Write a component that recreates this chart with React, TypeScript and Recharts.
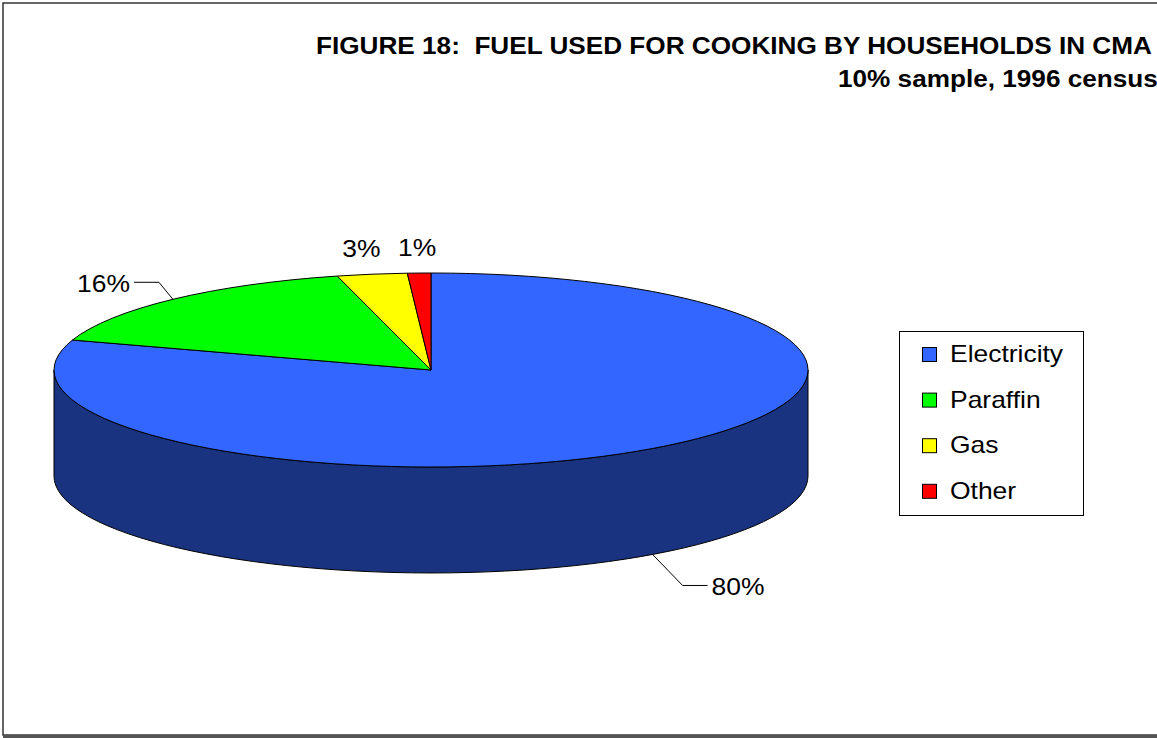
import React from "react";
import { PieChart, Pie, Cell, Legend, Tooltip } from "recharts";

const categories = ["Electricity", "Paraffin", "Gas", "Other"];
const shares = [80, 16, 3, 1];
const colors = ["#3366FF", "#00FF00", "#FFFF00", "#FF0000"];

const title = "FIGURE 18:  FUEL USED FOR COOKING BY HOUSEHOLDS IN CMA";
const subtitle = "10% sample, 1996 census";

const data = categories.map((name, i) => ({ name, value: shares[i] }));

const W = 1157;
const H = 738;
const RAD = Math.PI / 180;
const TILT = 97 / 377; // vertical squash of the pie disc
const DEPTH = 106; // height of the cylinder wall
const STRETCH = 1.15; // the source font is a bit wide
const FONT = "'Liberation Sans', Arial, sans-serif";

// half each channel for the side wall
function darker(hex: string) {
  const n = parseInt(hex.slice(1), 16);
  const c = [(n >> 16) & 255, (n >> 8) & 255, n & 255].map((v) => Math.round(v / 2));
  return `rgb(${c[0]},${c[1]},${c[2]})`;
}

function Slice3D(props: any) {
  const { cx, cy, outerRadius, startAngle, endAngle, fill } = props;
  const R = outerRadius;
  const r = R * TILT;
  const pt = (a: number, dy = 0) =>
    `${cx + R * Math.cos(a * RAD)},${cy - r * Math.sin(a * RAD) + dy}`;
  const lo = Math.min(startAngle, endAngle);
  const hi = Math.max(startAngle, endAngle);

  // visible wall = parts of the slice in the front half (180..360)
  const walls: string[] = [];
  for (let k = Math.floor(lo / 360) - 1; k <= Math.ceil(hi / 360); k++) {
    const s = Math.max(lo, 180 + 360 * k);
    const e = Math.min(hi, 360 + 360 * k);
    if (e > s) {
      walls.push(
        `M${pt(s)} A${R},${r} 0 0 0 ${pt(e)} L${pt(e, DEPTH)} A${R},${r} 0 0 1 ${pt(s, DEPTH)} Z`
      );
    }
  }
  const large = hi - lo > 180 ? 1 : 0;
  const top = `M${cx},${cy} L${pt(hi)} A${R},${r} 0 ${large} 1 ${pt(lo)} Z`;

  return (
    <g>
      {walls.map((d, i) => (
        <path key={i} d={d} fill={darker(fill)} stroke="#000" strokeWidth={1} strokeLinejoin="round" />
      ))}
      <path d={top} fill={fill} stroke="#000" strokeWidth={1} strokeLinejoin="round" />
    </g>
  );
}

function renderLabel(props: any) {
  const { cx, cy, midAngle, outerRadius, percent } = props;
  const a = midAngle * RAD;
  const R = outerRadius;
  const r = R * TILT;
  const front = Math.sin(a) < 0;
  const ax = cx + R * Math.cos(a);
  const ay = cy - r * Math.sin(a) + (front ? DEPTH : 0);
  const text = `${Math.round(percent * 100)}%`;
  const textStyle = { fontFamily: FONT, fontSize: 23, fill: "#000" };

  if (percent < 0.1) {
    const tx = ax + (ax - cx) * 0.18;
    const ty = ay - 17;
    return (
      <text transform={`translate(${tx},${ty}) scale(${STRETCH},1)`} textAnchor="middle" style={textStyle}>
        {text}
      </text>
    );
  }

  const sx = Math.cos(a) >= 0 ? 1 : -1;
  const ex = ax + sx * (front ? 30 : 14);
  const ey = ay + (front ? 31 : -17);
  const hx = ex + sx * 25;
  return (
    <g>
      <polyline points={`${ax},${ay} ${ex},${ey} ${hx},${ey}`} fill="none" stroke="#000" strokeWidth={1} />
      <text
        transform={`translate(${hx + sx * 4},${ey + 10}) scale(${STRETCH},1)`}
        textAnchor={sx > 0 ? "start" : "end"}
        style={textStyle}
      >
        {text}
      </text>
    </g>
  );
}

// legend keeps the data order (recharts would sort it by name)
function renderLegend() {
  return (
    <svg width={186} height={186} style={{ display: "block" }}>
      <rect x={0.5} y={0.5} width={184} height={184} fill="#fff" stroke="#000" />
      {categories.map((c, i) => (
        <g key={c}>
          <rect x={23.5} y={16.5 + i * 45.6} width={14} height={14} fill={colors[i]} stroke="#000" />
          <text
            transform={`translate(51,${31 + i * 45.6}) scale(${STRETCH},1)`}
            style={{ fontFamily: FONT, fontSize: 23, fill: "#000" }}
          >
            {c}
          </text>
        </g>
      ))}
    </svg>
  );
}

export default function App() {
  const titleStyle = { fontFamily: FONT, fontSize: 24, fontWeight: 700, fill: "#000", whiteSpace: "pre" as const };
  return (
    <div style={{ position: "relative", width: W, height: H, background: "#fff", overflow: "hidden" }}>
      <style>{`body{margin:0}`}</style>
      <svg width={W} height={H} style={{ position: "absolute", left: 0, top: 0 }}>
        <rect x={3} y={3} width={W + 20} height={732} fill="#fff" stroke="#333" strokeWidth={1.5} />
        <rect x={3} y={735} width={W} height={3} fill="#555" />
        <text transform={`translate(316,54) scale(1.09,1)`} xmlSpace="preserve" style={titleStyle}>
          {title}
        </text>
        <text transform={`translate(838,87) scale(1.09,1)`} style={titleStyle}>
          {subtitle}
        </text>
      </svg>
      <div style={{ position: "absolute", left: 0, top: 0 }}>
        <PieChart width={W} height={H} margin={{ top: 0, right: 0, bottom: 0, left: 0 }}>
          <Pie
            data={data}
            dataKey="value"
            nameKey="name"
            cx={431}
            cy={370}
            outerRadius={377}
            startAngle={90}
            endAngle={-270}
            isAnimationActive={false}
            shape={Slice3D}
            activeShape={Slice3D}
            inactiveShape={Slice3D}
            label={renderLabel}
            labelLine={false}
          >
            {data.map((d, i) => (
              <Cell key={d.name} fill={colors[i]} />
            ))}
          </Pie>
          <Tooltip defaultIndex={0} content={() => null} cursor={false} />
          <Legend
            layout="vertical"
            align="right"
            verticalAlign="middle"
            content={renderLegend}
            wrapperStyle={{ left: 899, top: 331, width: 186, height: 186, right: "auto" }}
          />
        </PieChart>
      </div>
    </div>
  );
}
